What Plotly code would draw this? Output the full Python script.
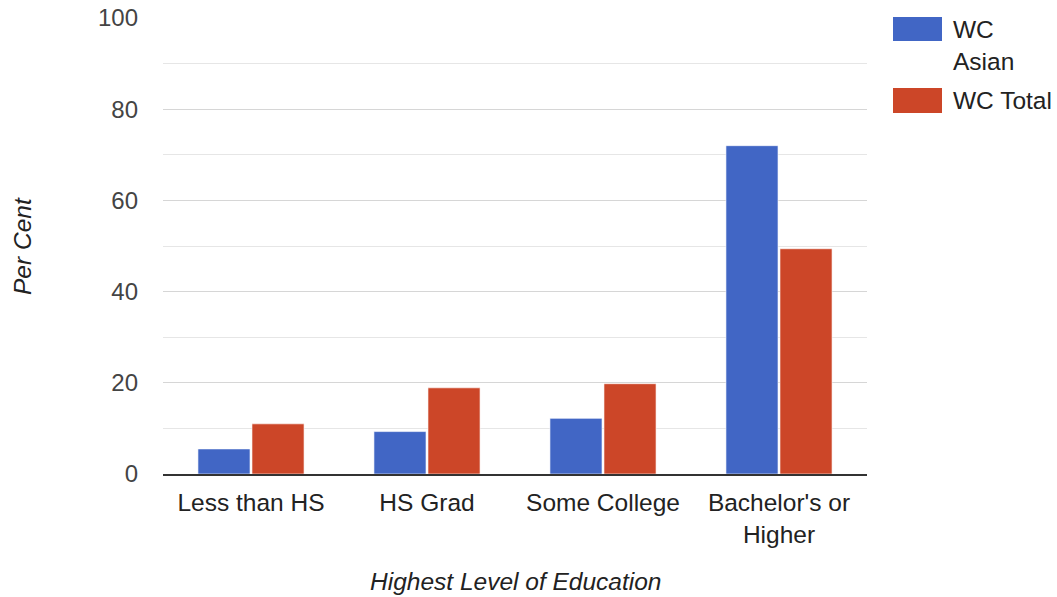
import plotly.graph_objects as go

categories = ["Less than HS", "HS Grad", "Some College", "Bachelor's or<br>Higher"]
series_names = ["WC Asian", "WC Total"]
legend_labels = ["WC<br>Asian", "WC Total"]
wc_asian = [5.5, 9.3, 12.2, 72.0]
wc_total = [11.0, 18.9, 19.8, 49.4]
y_ticks = [0, 20, 40, 60, 80, 100]

colors = ["#4166C5", "#CC4628"]
FONT = "Liberation Sans, Arial, sans-serif"
FS = 24
FT = 24.5

fig = go.Figure()
for name, vals, col in zip(series_names, [wc_asian, wc_total], colors):
    fig.add_trace(go.Bar(
        x=categories, y=vals, name=name,
        marker=dict(color=col, line=dict(color="rgba(255,255,255,0.6)", width=1)),
        showlegend=False,
    ))

W, H = 1057, 597
L, R, T, B = 163, 190, 18, 123
pw, ph = W - L - R, H - T - B

def px_x(x):
    return (x - L) / pw

def px_y(y):
    return (H - B - y) / ph

shapes = []
annotations = []
sw = [(17, 41), (88, 113)]
txt_y = [45.5, 101]
for i, (lab, col) in enumerate(zip(legend_labels, colors)):
    y0, y1 = sw[i]
    shapes.append(dict(type="rect", xref="paper", yref="paper",
                       x0=px_x(893), x1=px_x(942), y0=px_y(y1), y1=px_y(y0),
                       fillcolor=col, line=dict(width=0)))
    annotations.append(dict(text=lab, xref="paper", yref="paper",
                            x=px_x(951), y=px_y(txt_y[i]), xanchor="left", yanchor="middle",
                            align="left", showarrow=False,
                            font=dict(family=FONT, size=FT, color="#222222")))

annotations.append(dict(text="<i>Per Cent</i>", xref="paper", yref="paper",
                        x=0, y=0.5, xshift=22 - L, textangle=-90,
                        xanchor="center", yanchor="middle", showarrow=False,
                        font=dict(family=FONT, size=FT, color="#222222")))
annotations.append(dict(text="<i>Highest Level of Education</i>", xref="paper", yref="paper",
                        x=0.5, y=0, yshift=-(581 - (H - B)),
                        xanchor="center", yanchor="middle", showarrow=False,
                        font=dict(family=FONT, size=FT, color="#222222")))

fig.update_layout(
    width=W, height=H,
    margin=dict(l=L, r=R, t=T, b=B, autoexpand=False),
    paper_bgcolor="white", plot_bgcolor="white",
    barmode="group", bargap=0.386, bargroupgap=0.036,
    font=dict(family=FONT, size=FS, color="#444444"),
    shapes=shapes, annotations=annotations,
    xaxis=dict(showline=True, linecolor="#333333", linewidth=2,
               ticks="", tickfont=dict(size=FT, color="#222222"),
               ticklabelstandoff=6, fixedrange=True),
    yaxis=dict(range=[0, 100], tickvals=y_ticks, showgrid=True,
               gridcolor="#d6d6d6", gridwidth=1, zeroline=False,
               tickfont=dict(size=FS, color="#444444"),
               ticklabelstandoff=24,
               minor=dict(dtick=10, showgrid=True, gridcolor="#e6e6e6", gridwidth=1),
               fixedrange=True),
)

fig.write_html("out.html", config={"displayModeBar": False},
               post_script="document.body.style.margin='0';document.body.style.overflow='hidden';")
